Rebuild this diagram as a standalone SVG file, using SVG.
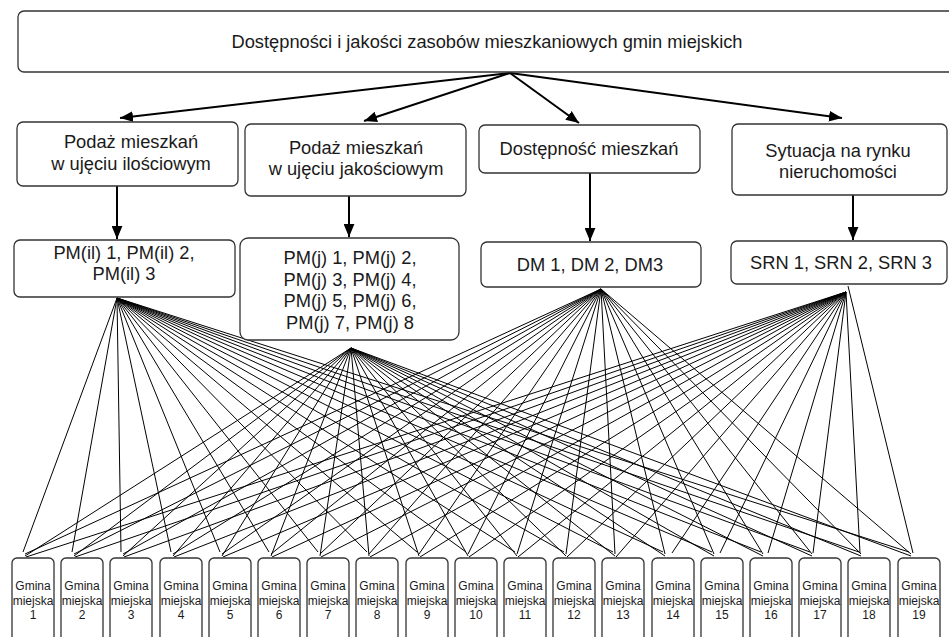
<svg xmlns="http://www.w3.org/2000/svg" width="949" height="637" viewBox="0 0 949 637">
<style>
.box{fill:#fff;stroke:#333;stroke-width:1.3}
.t{font-family:"Liberation Sans",Arial,sans-serif;font-size:18.3px;fill:#1a1a1a;text-anchor:middle}
.s{font-family:"Liberation Sans",Arial,sans-serif;font-size:12px;fill:#1a1a1a;text-anchor:middle}
.arr{stroke:#000;stroke-width:2;fill:none}
.fan{stroke:#000;stroke-width:1;fill:none}
</style>
<defs>
<marker id="ah" viewBox="0 0 12 10" markerWidth="13" markerHeight="11" refX="12" refY="5" orient="auto" markerUnits="userSpaceOnUse">
<path d="M0,0 L12,5 L0,10 z" fill="#000"/>
</marker>
</defs>
<rect width="949" height="637" fill="#fff"/>

<g id="connectors">
<line class="arr" x1="510" y1="73" x2="120" y2="118" marker-end="url(#ah)"/>
<line class="arr" x1="510" y1="73" x2="364" y2="121" marker-end="url(#ah)"/>
<line class="arr" x1="510" y1="73" x2="579" y2="123" marker-end="url(#ah)"/>
<line class="arr" x1="510" y1="73" x2="842" y2="118" marker-end="url(#ah)"/>
<line class="arr" x1="117" y1="186" x2="117" y2="239" marker-end="url(#ah)"/>
<line class="arr" x1="349" y1="196" x2="349" y2="237" marker-end="url(#ah)"/>
<line class="arr" x1="590" y1="173" x2="590" y2="241" marker-end="url(#ah)"/>
<line class="arr" x1="853" y1="195" x2="853" y2="240" marker-end="url(#ah)"/>
<path class="fan" d="M117 298L23 552M117 298L72 552M117 298L121 552M117 298L171 552M117 298L220 552M117 298L269 552M117 298L318 552M117 298L367 552M117 298L417 552M117 298L466 552M117 298L515 552M117 298L564 552M117 298L613 552M117 298L663 552M117 298L712 552M117 298L761 552M117 298L810 552M117 298L859 552M117 298L909 552"/>
<path class="fan" d="M351 348L25 556M351 348L74 556M351 348L123 556M351 348L173 556M351 348L222 556M351 348L271 556M351 348L320 556M351 348L369 556M351 348L419 556M351 348L468 556M351 348L517 556M351 348L566 556M351 348L615 556M351 348L665 556M351 348L714 556M351 348L763 556M351 348L812 556M351 348L861 556M351 348L911 556"/>
<path class="fan" d="M601 289L25 554M601 289L74 554M601 289L123 554M601 289L173 554M601 289L222 554M601 289L271 554M601 289L320 554M601 289L369 554M601 289L419 554M601 289L468 554M601 289L517 554M601 289L566 554M601 289L615 554M601 289L665 554M601 289L714 554M601 289L763 554M601 289L812 554M601 289L861 554M601 289L911 554"/>
<path class="fan" d="M846 292L26 557M846 292L75 557M846 292L124 557M846 292L174 557M846 292L223 557M846 292L272 557M846 292L321 557M846 292L370 557M846 292L420 557M846 292L469 557M846 292L518 557M846 292L567 557M846 292L616 557M846 292L672 553M846 292L720 553M846 292L768 553M846 292L813 553M846 292L860 553M848 286L913 553"/>
</g>

<g id="root">
<rect class="box" x="18" y="11" width="945" height="61" rx="6"/>
<text class="t" x="487" y="48">Dostępności i jakości zasobów mieszkaniowych gmin miejskich</text>
</g>

<g id="podaz-ilosciowa">
<rect class="box" x="17" y="122" width="221" height="64" rx="6"/>
<text class="t" x="131" y="148">Podaż mieszkań</text>
<text class="t" x="131" y="170">w ujęciu ilościowym</text>
</g>
<g id="podaz-jakosciowa">
<rect class="box" x="245" y="124" width="221" height="72" rx="6"/>
<text class="t" x="356" y="154">Podaż mieszkań</text>
<text class="t" x="356" y="175">w ujęciu jakościowym</text>
</g>
<g id="dostepnosc">
<rect class="box" x="479" y="125" width="221" height="48" rx="6"/>
<text class="t" x="589" y="155">Dostępność mieszkań</text>
</g>
<g id="sytuacja">
<rect class="box" x="732" y="124" width="215" height="71" rx="6"/>
<text class="t" x="838" y="157">Sytuacja na rynku</text>
<text class="t" x="838" y="178">nieruchomości</text>
</g>

<g id="pm-il">
<rect class="box" x="14" y="240" width="221" height="57" rx="6"/>
<text class="t" x="124" y="259">PM(il) 1, PM(il) 2,</text>
<text class="t" x="124" y="280">PM(il) 3</text>
</g>
<g id="pm-j">
<rect class="box" x="240" y="238" width="219" height="102" rx="8"/>
<text class="t" x="350" y="264">PM(j) 1, PM(j) 2,</text>
<text class="t" x="350" y="286">PM(j) 3, PM(j) 4,</text>
<text class="t" x="350" y="307">PM(j) 5, PM(j) 6,</text>
<text class="t" x="350" y="329">PM(j) 7, PM(j) 8</text>
</g>
<g id="dm">
<rect class="box" x="481" y="242" width="220" height="45" rx="6"/>
<text class="t" x="590" y="271">DM 1, DM 2, DM3</text>
</g>
<g id="srn">
<rect class="box" x="731" y="241" width="216" height="43" rx="6"/>
<text class="t" x="841" y="269">SRN 1, SRN 2, SRN 3</text>
</g>

<g id="g1"><rect class="box" x="12" y="558" width="42" height="90" rx="5"/><text class="s" x="33" y="590">Gmina</text><text class="s" x="33" y="604.5">miejska</text><text class="s" x="33" y="619">1</text></g>
<g id="g2"><rect class="box" x="61" y="558" width="42" height="90" rx="5"/><text class="s" x="82" y="590">Gmina</text><text class="s" x="82" y="604.5">miejska</text><text class="s" x="82" y="619">2</text></g>
<g id="g3"><rect class="box" x="110" y="558" width="42" height="90" rx="5"/><text class="s" x="131" y="590">Gmina</text><text class="s" x="131" y="604.5">miejska</text><text class="s" x="131" y="619">3</text></g>
<g id="g4"><rect class="box" x="160" y="558" width="42" height="90" rx="5"/><text class="s" x="181" y="590">Gmina</text><text class="s" x="181" y="604.5">miejska</text><text class="s" x="181" y="619">4</text></g>
<g id="g5"><rect class="box" x="209" y="558" width="42" height="90" rx="5"/><text class="s" x="230" y="590">Gmina</text><text class="s" x="230" y="604.5">miejska</text><text class="s" x="230" y="619">5</text></g>
<g id="g6"><rect class="box" x="258" y="558" width="42" height="90" rx="5"/><text class="s" x="279" y="590">Gmina</text><text class="s" x="279" y="604.5">miejska</text><text class="s" x="279" y="619">6</text></g>
<g id="g7"><rect class="box" x="307" y="558" width="42" height="90" rx="5"/><text class="s" x="328" y="590">Gmina</text><text class="s" x="328" y="604.5">miejska</text><text class="s" x="328" y="619">7</text></g>
<g id="g8"><rect class="box" x="356" y="558" width="42" height="90" rx="5"/><text class="s" x="377" y="590">Gmina</text><text class="s" x="377" y="604.5">miejska</text><text class="s" x="377" y="619">8</text></g>
<g id="g9"><rect class="box" x="406" y="558" width="42" height="90" rx="5"/><text class="s" x="427" y="590">Gmina</text><text class="s" x="427" y="604.5">miejska</text><text class="s" x="427" y="619">9</text></g>
<g id="g10"><rect class="box" x="455" y="558" width="42" height="90" rx="5"/><text class="s" x="476" y="590">Gmina</text><text class="s" x="476" y="604.5">miejska</text><text class="s" x="476" y="619">10</text></g>
<g id="g11"><rect class="box" x="504" y="558" width="42" height="90" rx="5"/><text class="s" x="525" y="590">Gmina</text><text class="s" x="525" y="604.5">miejska</text><text class="s" x="525" y="619">11</text></g>
<g id="g12"><rect class="box" x="553" y="558" width="42" height="90" rx="5"/><text class="s" x="574" y="590">Gmina</text><text class="s" x="574" y="604.5">miejska</text><text class="s" x="574" y="619">12</text></g>
<g id="g13"><rect class="box" x="602" y="558" width="42" height="90" rx="5"/><text class="s" x="623" y="590">Gmina</text><text class="s" x="623" y="604.5">miejska</text><text class="s" x="623" y="619">13</text></g>
<g id="g14"><rect class="box" x="652" y="558" width="42" height="90" rx="5"/><text class="s" x="673" y="590">Gmina</text><text class="s" x="673" y="604.5">miejska</text><text class="s" x="673" y="619">14</text></g>
<g id="g15"><rect class="box" x="701" y="558" width="42" height="90" rx="5"/><text class="s" x="722" y="590">Gmina</text><text class="s" x="722" y="604.5">miejska</text><text class="s" x="722" y="619">15</text></g>
<g id="g16"><rect class="box" x="750" y="558" width="42" height="90" rx="5"/><text class="s" x="771" y="590">Gmina</text><text class="s" x="771" y="604.5">miejska</text><text class="s" x="771" y="619">16</text></g>
<g id="g17"><rect class="box" x="799" y="558" width="42" height="90" rx="5"/><text class="s" x="820" y="590">Gmina</text><text class="s" x="820" y="604.5">miejska</text><text class="s" x="820" y="619">17</text></g>
<g id="g18"><rect class="box" x="848" y="558" width="42" height="90" rx="5"/><text class="s" x="869" y="590">Gmina</text><text class="s" x="869" y="604.5">miejska</text><text class="s" x="869" y="619">18</text></g>
<g id="g19"><rect class="box" x="898" y="558" width="42" height="90" rx="5"/><text class="s" x="919" y="590">Gmina</text><text class="s" x="919" y="604.5">miejska</text><text class="s" x="919" y="619">19</text></g>
</svg>
